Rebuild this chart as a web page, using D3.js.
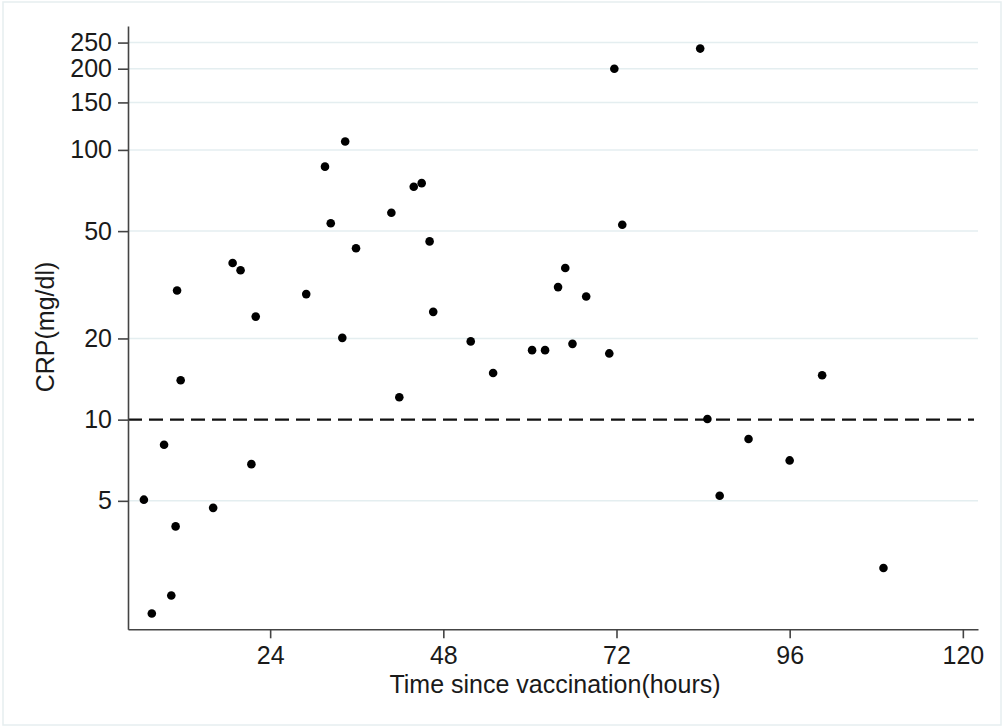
<!DOCTYPE html>
<html>
<head>
<meta charset="utf-8">
<script src="https://cdn.jsdelivr.net/npm/d3@7"></script>
<style>
  body { margin: 0; background: #fff; }
  #chart { width: 1003px; height: 727px; }
  text { font-family: "Liberation Sans", Arial, sans-serif; fill: #1a1a1a; }
</style>
</head>
<body>
<div id="chart"></div>
<script>
// hours since vaccination and CRP (mg/dl)
const hours = [6.5, 7.6, 9.3, 10.3, 10.9, 11.1, 11.6, 16.1, 18.8, 19.9, 21.4, 22.0,
    29.0, 31.6, 32.4, 34.0, 34.4, 35.9, 40.8, 41.9, 43.9, 45.0, 46.1, 46.6,
    51.8, 54.9, 60.3, 62.1, 63.9, 64.9, 65.9, 67.8, 71.0, 71.7, 72.8,
    83.6, 84.6, 86.3, 90.3, 96.0, 100.5, 109.0];
const crp = [5.05, 1.91, 8.07, 2.23, 4.02, 30.1, 14.0, 4.71, 38.1, 35.8, 6.84, 24.1,
    29.2, 86.7, 53.5, 20.1, 107.4, 43.2, 58.5, 12.1, 73.0, 75.3, 45.8, 25.1,
    19.5, 14.9, 18.1, 18.1, 31.0, 36.5, 19.1, 28.6, 17.6, 200, 52.8,
    237.5, 10.05, 5.22, 8.48, 7.06, 14.6, 2.82];

const xTicks = [24, 48, 72, 96, 120];
const yTicks = [5, 10, 20, 50, 100, 150, 200, 250];
const cutoff = 10;

const points = hours.map((h, i) => ({h: h, v: crp[i]}));

const W = 1003, H = 727;
// plot area edges
const plot = {left: 128, right: 978, top: 26, bottom: 629.3};

const svg = d3.select("#chart").append("svg")
    .attr("width", W)
    .attr("height", H);

// thin frame round the whole graph
svg.append("rect")
    .attr("x", 3).attr("y", 2)
    .attr("width", 998).attr("height", 723)
    .attr("fill", "none")
    .attr("stroke", "#e6eef0")
    .attr("stroke-width", 1.5);

const x = d3.scaleLinear().domain([4.3, 122.1]).range([plot.left, plot.right]);
const y = d3.scaleLog().domain([1.67, 288]).range([plot.bottom, plot.top]);

// grid lines (the cutoff gets a dashed line instead)
svg.append("g")
    .selectAll("line")
    .data(yTicks.filter(d => d !== cutoff))
    .join("line")
    .attr("x1", plot.left).attr("x2", plot.right)
    .attr("y1", d => y(d)).attr("y2", d => y(d))
    .attr("stroke", "#e4eef0")
    .attr("stroke-width", 1.5);

svg.append("line")
    .attr("x1", plot.left).attr("x2", 974)
    .attr("y1", y(cutoff)).attr("y2", y(cutoff))
    .attr("stroke", "#111")
    .attr("stroke-width", 2.2)
    .attr("stroke-dasharray", "14,7");

// axes
const yAxis = svg.append("g")
    .attr("transform", "translate(" + plot.left + ",0)")
    .call(d3.axisLeft(y).tickValues(yTicks).tickFormat(d3.format("d"))
        .tickSize(10).tickPadding(6).tickSizeOuter(0));

const xAxis = svg.append("g")
    .attr("transform", "translate(0," + plot.bottom + ")")
    .call(d3.axisBottom(x).tickValues(xTicks).tickFormat(d3.format("d"))
        .tickSize(9).tickPadding(8).tickSizeOuter(0));

[yAxis, xAxis].forEach(function(a) {
    a.select(".domain").attr("stroke", "#444").attr("stroke-width", 1.6);
    a.selectAll(".tick line").attr("stroke", "#444").attr("stroke-width", 1.6);
    a.selectAll(".tick text")
        .attr("font-size", "25px")
        .attr("fill", "#1a1a1a")
        .style("font-family", "'Liberation Sans', Arial, sans-serif");
});

// axis titles
svg.append("text")
    .attr("x", 555)
    .attr("y", 693)
    .attr("text-anchor", "middle")
    .attr("font-size", "25px")
    .text("Time since vaccination(hours)");

svg.append("text")
    .attr("transform", "translate(54,327) rotate(-90)")
    .attr("text-anchor", "middle")
    .attr("font-size", "25px")
    .text("CRP(mg/dl)");

// the dots
svg.append("g")
    .selectAll("circle")
    .data(points)
    .join("circle")
    .attr("cx", d => x(d.h))
    .attr("cy", d => y(d.v))
    .attr("r", 4.3)
    .attr("fill", "#000");
</script>
</body>
</html>
